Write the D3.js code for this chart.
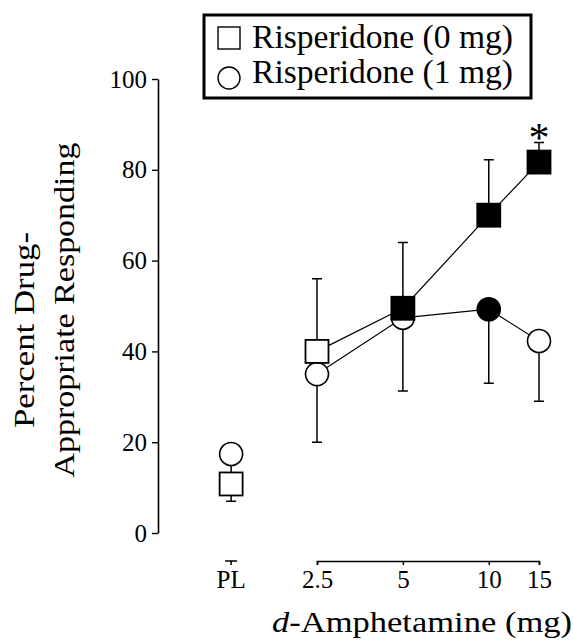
<!DOCTYPE html>
<html>
<head>
    <title>Risperidone / d-Amphetamine</title>
    <style>
        body { margin: 0; background: #fff; }
        svg { display: block; }
        text { font-family: "Liberation Serif", "Times New Roman", serif; fill: #000; }
    </style>
</head>
<body>
    <svg id="chart" width="573" height="642"></svg>
    <script src="https://d3js.org/d3.v7.min.js"></script>
    <script>
        // Doses (PL placed one doubling below 2.5 on the log axis)
        const doses = [1.25, 2.5, 5, 10, 15];
        const doseLabels = ["PL", "2.5", "5", "10", "15"];
        const yTicks = [0, 20, 40, 60, 80, 100];

        // Risperidone 0 mg (squares)
        const ris0Mean = [10.8, 40, 49.5, 70, 81.7];
        const ris0Sem = [3.8, 16, 14.5, 12.2, 4.3];
        const ris0ErrDir = [-1, 1, 1, 1, 1];
        const ris0Filled = [false, false, true, true, true];

        // Risperidone 1 mg (circles)
        const ris1Mean = [17.4, 35, 47.4, 49.3, 42.3];
        const ris1Sem = [5, 15, 16.1, 16.3, 13.3];
        const ris1ErrDir = [-1, -1, -1, -1, -1];
        const ris1Filled = [false, false, false, true, false];

        const legendLabels = ["Risperidone (0 mg)", "Risperidone (1 mg)"];
        const starDose = 15;

        const svg = d3.select("#chart");

        // Scales
        const x = d3.scaleLog().domain([2.5, 15]).range([317, 539]);
        const y = d3.scaleLinear().domain([0, 100]).range([533, 79]);

        const toRows = (mean, sem, dir, filled) => doses.map((d, i) => ({
            dose: d, mean: mean[i], end: mean[i] + dir[i] * sem[i], filled: filled[i]
        }));
        const sq = toRows(ris0Mean, ris0Sem, ris0ErrDir, ris0Filled);
        const ci = toRows(ris1Mean, ris1Sem, ris1ErrDir, ris1Filled);

        // Y axis
        const yAxis = svg.append("g")
            .attr("transform", "translate(158,0)")
            .call(d3.axisLeft(y).tickValues(yTicks).tickSize(6).tickSizeOuter(0).tickPadding(5));
        yAxis.select(".domain").attr("stroke-width", 1.6);
        yAxis.selectAll(".tick line").attr("stroke-width", 1.4);
        yAxis.selectAll(".tick text").attr("font-size", 25)
            .style("font-family", "'Liberation Serif', serif");

        // X axis: bracket for the doses, separate small mark for PL
        const xAxis = svg.append("g")
            .attr("transform", "translate(0,561)")
            .call(d3.axisBottom(x).tickValues(doses.slice(1)).tickSize(4).tickSizeOuter(4)
                .tickFormat((d, i) => doseLabels[i + 1]));
        xAxis.select(".domain").attr("stroke-width", 1.6);
        xAxis.selectAll(".tick line").attr("stroke-width", 1.4);
        xAxis.selectAll(".tick text").attr("font-size", 25).attr("y", 27).attr("dy", 0)
            .style("font-family", "'Liberation Serif', serif");

        const plX = x(doses[0]);
        svg.append("path")
            .attr("d", `M${plX - 6},561H${plX + 6}M${plX},561V565`)
            .attr("stroke", "#000").attr("stroke-width", 1.5).attr("fill", "none");
        svg.append("text")
            .attr("x", plX).attr("y", 588)
            .attr("text-anchor", "middle").attr("font-size", 25)
            .text(doseLabels[0]);

        // Axis titles
        const xt = svg.append("text")
            .attr("x", 272).attr("y", 632).attr("font-size", 30)
            .attr("textLength", 300).attr("lengthAdjust", "spacingAndGlyphs");
        xt.append("tspan").attr("font-style", "italic").text("d");
        xt.append("tspan").text("-Amphetamine (mg)");

        svg.append("text")
            .attr("transform", "rotate(-90)")
            .attr("x", -330).attr("y", 34)
            .attr("text-anchor", "middle").attr("font-size", 30)
            .attr("textLength", 196).attr("lengthAdjust", "spacingAndGlyphs")
            .text("Percent Drug-");
        svg.append("text")
            .attr("transform", "rotate(-90)")
            .attr("x", -310).attr("y", 74)
            .attr("text-anchor", "middle").attr("font-size", 30)
            .attr("textLength", 335).attr("lengthAdjust", "spacingAndGlyphs")
            .text("Appropriate Responding");

        // Connecting lines (PL not connected)
        const line = d3.line().x(d => x(d.dose)).y(d => y(d.mean));
        [sq, ci].forEach(s => {
            svg.append("path")
                .datum(s.slice(1))
                .attr("d", line)
                .attr("fill", "none").attr("stroke", "#000").attr("stroke-width", 1.2);
        });

        // Error bars
        const errG = svg.append("g").attr("stroke", "#000").attr("stroke-width", 1.5);
        [sq, ci].forEach(s => {
            errG.selectAll(null).data(s).enter().append("path")
                .attr("fill", "none")
                .attr("d", d => `M${x(d.dose)},${y(d.mean)}V${y(d.end)}M${x(d.dose) - 5},${y(d.end)}H${x(d.dose) + 5}`);
        });

        // Circles
        svg.append("g").selectAll("circle").data(ci).enter().append("circle")
            .attr("cx", d => x(d.dose)).attr("cy", d => y(d.mean)).attr("r", 11.5)
            .attr("fill", d => d.filled ? "#000" : "#fff")
            .attr("stroke", "#000").attr("stroke-width", 1.6);

        // Squares
        const half = 11.5;
        svg.append("g").selectAll("rect").data(sq).enter().append("rect")
            .attr("x", d => x(d.dose) - half).attr("y", d => y(d.mean) - half)
            .attr("width", half * 2).attr("height", half * 2)
            .attr("fill", d => d.filled ? "#000" : "#fff")
            .attr("stroke", "#000").attr("stroke-width", 1.8);

        // Significance marker
        svg.append("text")
            .attr("x", x(starDose)).attr("y", 152)
            .attr("text-anchor", "middle").attr("font-size", 42)
            .text("*");

        // Legend
        const lg = svg.append("g");
        lg.append("rect")
            .attr("x", 204).attr("y", 15).attr("width", 327).attr("height", 83)
            .attr("fill", "#fff").attr("stroke", "#000").attr("stroke-width", 3);
        lg.append("rect")
            .attr("x", 218).attr("y", 27).attr("width", 22).attr("height", 22)
            .attr("fill", "#fff").attr("stroke", "#000").attr("stroke-width", 1.4);
        lg.append("circle")
            .attr("cx", 229).attr("cy", 78).attr("r", 11)
            .attr("fill", "#fff").attr("stroke", "#000").attr("stroke-width", 1.4);
        lg.selectAll("text.leg").data(legendLabels).enter().append("text")
            .attr("class", "leg")
            .attr("x", 252).attr("y", (d, i) => 48 + i * 35)
            .attr("font-size", 33)
            .attr("textLength", 261).attr("lengthAdjust", "spacingAndGlyphs")
            .text(d => d);
    </script>
</body>
</html>
